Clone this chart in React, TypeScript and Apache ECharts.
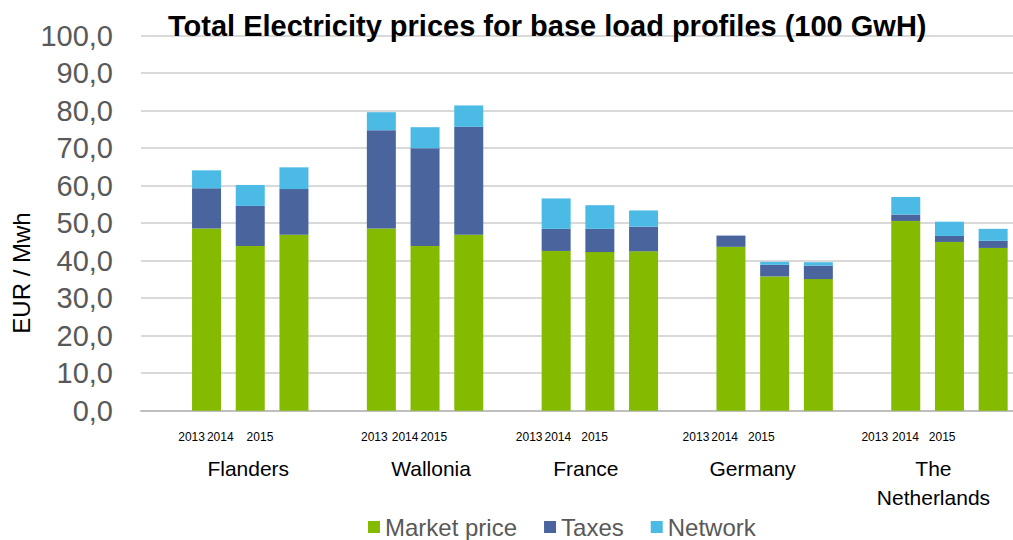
import React, { useEffect, useRef } from "react";
import * as echarts from "echarts";

const groups = ["Flanders", "Wallonia", "France", "Germany", "The\nNetherlands"];
const years = ["2013", "2014", "2015"];
const marketPrice = [
  [48.6, 43.9, 46.9],
  [48.6, 43.9, 46.9],
  [42.6, 42.3, 42.5],
  [43.7, 35.8, 35.1],
  [50.6, 45.0, 43.4],
];
const taxes = [
  [10.7, 10.7, 12.2],
  [26.2, 26.1, 28.8],
  [5.9, 6.2, 6.6],
  [3.0, 3.1, 3.6],
  [1.7, 1.6, 1.9],
];
const network = [
  [4.8, 5.6, 5.8],
  [4.8, 5.6, 5.7],
  [8.1, 6.3, 4.3],
  [0, 0.8, 0.9],
  [4.7, 3.8, 3.2],
];
const yTicks = { min: 0, max: 100, interval: 10 };

// label style offsets (px, negative = left) to mimic the reference's label placement
const yearShift = [
  [-15, -30, -34],
  [-7, -20, -35],
  [-27, -42, -49],
  [-35, -50, -57],
  [-31, -44, -51],
];
const groupShift = [-2, 6, -14, -22, -16];

export default function App() {
  const ref = useRef<HTMLDivElement>(null);
  useEffect(() => {
    if (!ref.current) return;
    const chart = echarts.init(ref.current, null, { renderer: "svg" });
    const font = "Liberation Sans, Arial, sans-serif";

    const yearCats: string[] = [];
    const groupCats: string[] = [];
    const yearRich: any = {};
    const groupRich: any = {};
    const mk: (number | null)[] = [];
    const tx: (number | null)[] = [];
    const nw: (number | null)[] = [];
    const pushBlank = () => {
      yearCats.push("");
      groupCats.push("");
      mk.push(null);
      tx.push(null);
      nw.push(null);
    };
    pushBlank();
    groups.forEach((g, gi) => {
      years.forEach((y, yi) => {
        const idx = yearCats.length;
        yearCats.push(y);
        groupCats.push(yi === 1 ? g : "");
        mk.push(marketPrice[gi][yi]);
        tx.push(taxes[gi][yi]);
        nw.push(network[gi][yi]);
        const s = yearShift[gi][yi];
        yearRich["y" + idx] = {
          fontSize: 12,
          color: "#000",
          fontFamily: font,
          padding: s < 0 ? [0, -2 * s, 0, 0] : [0, 0, 0, 2 * s],
        };
        if (yi === 1) {
          const gs = groupShift[gi];
          groupRich["g" + idx] = {
            fontSize: 21,
            lineHeight: 29,
            color: "#000",
            fontFamily: font,
            padding: gs < 0 ? [0, -2 * gs, 0, 0] : [0, 0, 0, 2 * gs],
          };
        }
      });
      if (gi < groups.length - 1) pushBlank();
    });

    chart.setOption({
      animation: false,
      title: {
        text: "Total Electricity prices for base load profiles (100 GwH)",
        left: 163,
        top: 6,
        textStyle: { fontSize: 29, fontWeight: "bold", color: "#000", fontFamily: font },
      },
      legend: {
        left: 363,
        top: 510,
        itemWidth: 12,
        itemHeight: 12,
        itemGap: 27,
        icon: "rect",
        textStyle: { fontSize: 24, color: "#595959", fontFamily: font },
        data: ["Market price", "Taxes", "Network"],
      },
      grid: {
        left: 141,
        width: 874,
        top: 35.7,
        height: 375,
        containLabel: false,
        outerBoundsMode: "none",
      },
      graphic: [
        {
          type: "text",
          x: 21,
          y: 273,
          rotation: Math.PI / 2,
          style: {
            text: "EUR / Mwh",
            fontSize: 24,
            fontFamily: font,
            fill: "#000",
            align: "center",
            verticalAlign: "middle",
          },
        },
      ],
      xAxis: [
        {
          type: "category",
          data: yearCats,
          position: "bottom",
          axisLine: { lineStyle: { color: "#bfbfbf", width: 2 } },
          axisTick: { show: false },
          axisLabel: {
            interval: 0,
            margin: 20,
            hideOverlap: false,
            formatter: (v: string, i: number) => (v ? `{y${i}|${v}}` : ""),
            rich: yearRich,
          },
        },
        {
          type: "category",
          data: groupCats,
          position: "bottom",
          offset: 0,
          axisLine: { show: false },
          axisTick: { show: false },
          axisLabel: {
            interval: 0,
            margin: 43,
            formatter: (v: string, i: number) =>
              v ? v.split("\n").map((p) => `{g${i}|${p}}`).join("\n") : "",
            rich: groupRich,
          },
        },
      ],
      yAxis: {
        type: "value",
        min: yTicks.min,
        max: yTicks.max,
        interval: yTicks.interval,
        axisLine: { show: false },
        axisTick: { show: false },
        splitLine: { lineStyle: { color: "#d9d9d9", width: 2 } },
        axisLabel: {
          margin: 28,
          fontSize: 29,
          color: "#595959",
          fontFamily: font,
          formatter: (v: number) => v.toFixed(1).replace(".", ","),
        },
      },
      series: [
        {
          name: "Market price",
          type: "bar",
          stack: "total",
          barWidth: 29,
          itemStyle: { color: "#84BA00" },
          data: mk,
        },
        {
          name: "Taxes",
          type: "bar",
          stack: "total",
          barWidth: 29,
          itemStyle: { color: "#4A659D" },
          data: tx,
        },
        {
          name: "Network",
          type: "bar",
          stack: "total",
          barWidth: 29,
          itemStyle: { color: "#4BBBE6" },
          data: nw,
        },
      ],
    });
    return () => chart.dispose();
  }, []);
  return (
    <div
      ref={ref}
      style={{ position: "absolute", left: 0, top: 0, width: 1013, height: 540 }}
    />
  );
}
